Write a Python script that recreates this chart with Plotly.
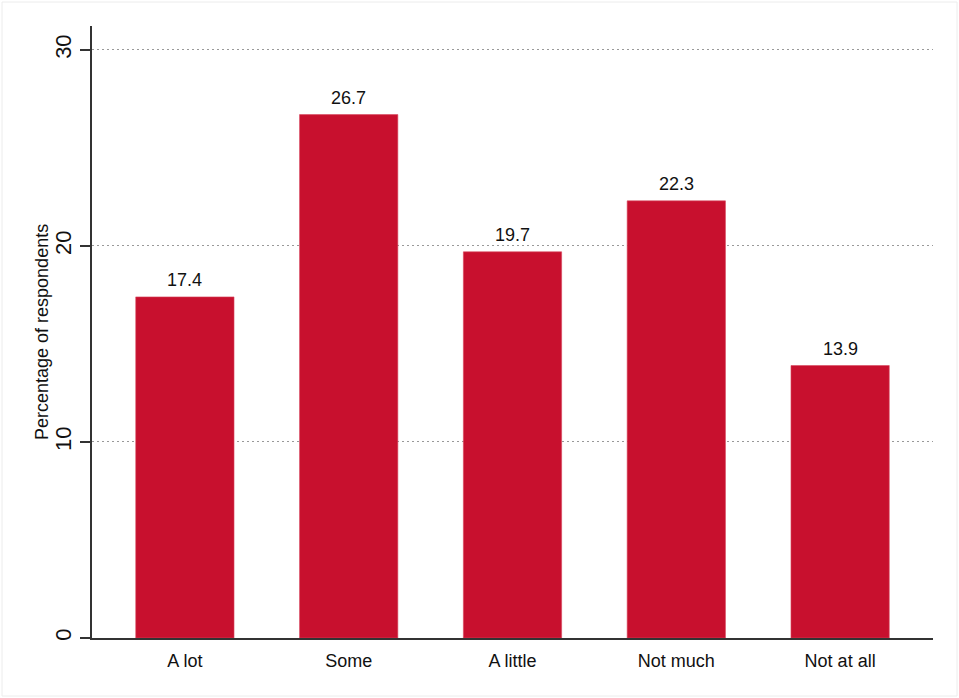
import plotly.graph_objects as go

categories = ["A lot", "Some", "A little", "Not much", "Not at all"]
values = [17.4, 26.7, 19.7, 22.3, 13.9]
y_ticks = [0, 10, 20, 30]
y_title = "Percentage of respondents"

W, H = 959, 698
L, R, T, B = 92, 26, 26, 60
pw = W - L - R
ph = H - T - B
FONT = "Liberation Sans, Arial"

fig = go.Figure()
fig.add_trace(go.Bar(
    x=list(range(len(categories))),
    y=values,
    width=0.6,
    marker=dict(color="#C8102E", line=dict(color="#D9485E", width=0.6)),
    hoverinfo="skip",
))

for i, v in enumerate(values):
    fig.add_annotation(x=i, y=v, text=f"{v:.1f}", showarrow=False,
                       yanchor="bottom", yshift=5,
                       font=dict(family=FONT, size=18, color="#111"))

fig.add_annotation(xref="paper", yref="paper", x=(42 - L) / pw, y=0.5,
                   text=y_title, textangle=-90, showarrow=False,
                   xanchor="center", yanchor="middle",
                   font=dict(family=FONT, size=18, color="#111"))

# faint outer frame
fig.add_shape(type="rect", xref="paper", yref="paper",
              x0=(2 - L) / pw, x1=(W - 2 - L) / pw,
              y0=-(H - 2 - T - ph) / ph, y1=1 + (T - 2) / ph,
              line=dict(color="#ececec", width=1), layer="below")

fig.update_layout(
    width=W, height=H,
    margin=dict(l=L, r=R, t=T, b=B, pad=0),
    paper_bgcolor="white", plot_bgcolor="white",
    showlegend=False,
    bargap=0.4,
    xaxis=dict(
        range=[-0.567, len(categories) - 1 + 0.567],
        tickmode="array", tickvals=list(range(len(categories))), ticktext=categories,
        ticks="", showgrid=False, zeroline=False,
        ticklabelstandoff=6,
        showline=True, linecolor="#333", linewidth=1.5,
        tickfont=dict(family=FONT, size=18, color="#111"),
        fixedrange=True,
    ),
    yaxis=dict(
        range=[0, 31.22],
        tickmode="array", tickvals=y_ticks, ticktext=[str(t) for t in y_ticks],
        tickangle=-90,
        ticks="outside", ticklen=10, tickwidth=1.5, tickcolor="#333",
        showgrid=True, gridcolor="#999", gridwidth=1, griddash="2px,3px",
        zeroline=False,
        showline=True, linecolor="#333", linewidth=1.5,
        tickfont=dict(family=FONT, size=22, color="#111"),
        fixedrange=True,
    ),
)

fig.write_html("out.html", config={"displayModeBar": False},
               post_script="document.body.style.margin='0';")
